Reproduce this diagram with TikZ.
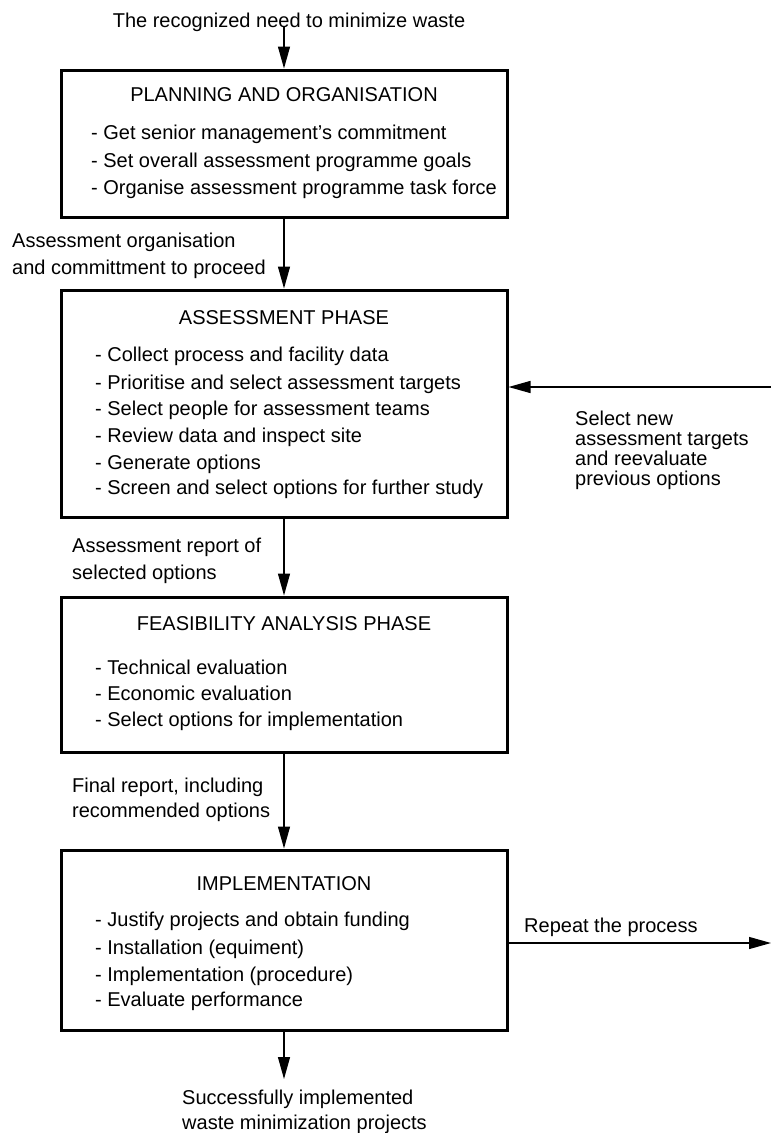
\documentclass[tikz,border=0pt]{standalone}
\usepackage{fontspec}
\setmainfont{Liberation Sans}
\usetikzlibrary{arrows.meta}
\begin{document}
\begin{tikzpicture}[x=1pt, y=-1pt,
        phase/.style={draw, line width=3pt, minimum width=446pt, inner sep=0pt},
        titre/.style={font=\fontsize{20}{24}\selectfont, inner sep=0pt, text height=14pt, text depth=0pt},
        ligne/.style={titre, anchor=west},
        note/.style={font=\fontsize{20}{27}\selectfont, align=left, anchor=north west, inner sep=0pt},
        fleche/.style={line width=1.3pt, -{Triangle[length=22pt, width=12pt]}}]
        \useasboundingbox (0,0) rectangle (771,1133);
        % Besoin de départ
        \node[titre] (besoin) at (289,20) {The recognized need to minimize waste};
        % Phase 1 : planification
        \node[phase, minimum height=147pt] (plan) at (284,143.5) {};
        \node[titre] (plan-titre) at (284,94) {PLANNING AND ORGANISATION};
        \foreach \y/\t [count=\i] in {132/{- Get senior management’s commitment},
                160/{- Set overall assessment programme goals},
                187/{- Organise assessment programme task force}} {
            \node[ligne] (plan-\i) at (91,\y) {\t};
        }
        % Phase 2 : évaluation
        \node[phase, minimum height=227pt] (assess) at (284,403.5) {};
        \node[titre] (assess-titre) at (284,317) {ASSESSMENT PHASE};
        \foreach \y/\t [count=\i] in {354/{- Collect process and facility data},
                382/{- Prioritise and select assessment targets},
                408/{- Select people for assessment teams},
                435/{- Review data and inspect site},
                462/{- Generate options},
                487/{- Screen and select options for further study}} {
            \node[ligne] (assess-\i) at (95,\y) {\t};
        }
        % Phase 3 : faisabilité
        \node[phase, minimum height=155pt] (feas) at (284,674.5) {};
        \node[titre] (feas-titre) at (284,623) {FEASIBILITY ANALYSIS PHASE};
        \foreach \y/\t [count=\i] in {667/{- Technical evaluation},
                693/{- Economic evaluation},
                719/{- Select options for implementation}} {
            \node[ligne] (feas-\i) at (95,\y) {\t};
        }
        % Phase 4 : mise en oeuvre
        \node[phase, minimum height=180pt] (impl) at (284,940) {};
        \node[titre] (impl-titre) at (284,883) {IMPLEMENTATION};
        \foreach \y/\t [count=\i] in {919/{- Justify projects and obtain funding},
                947/{- Installation (equiment)},
                974/{- Implementation (procedure)},
                999/{- Evaluate performance}} {
            \node[ligne] (impl-\i) at (95,\y) {\t};
        }
        % Étiquettes des flèches
        \node[note] (engagement) at (12,233) {Assessment organisation\\and committment to proceed};
        \node[note] (rapport) at (72,538) {Assessment report of\\selected options};
        \node[note, font=\fontsize{20}{25}\selectfont] (final) at (72,778) {Final report, including\\recommended options};
        \node[note, font=\fontsize{20}{25}\selectfont] (succes) at (182,1090) {Successfully implemented\\waste minimization projects};
        \node[note, font=\fontsize{20}{20}\selectfont] (nouveau) at (575,411) {Select new\\assessment targets\\and reevaluate\\previous options};
        \node[ligne] (repeter-texte) at (524,925) {Repeat the process};
        % Flèches principales
        \draw[fleche] (besoin.south -| plan.north) -- (plan.north);
        \draw[fleche] (plan) -- (assess);
        \draw[fleche] (assess) -- (feas);
        \draw[fleche] (feas) -- (impl);
        \draw[fleche, shorten >=11pt] (impl) -- (impl.south |- succes.north);
        % Retour et répétition
        \coordinate (retour) at (771,387);
        \coordinate (repeter) at (771,943);
        \draw[fleche] (retour) -- (assess.east |- retour);
        \draw[fleche] (impl.east |- repeter) -- (repeter);
    \end{tikzpicture}
\end{document}
